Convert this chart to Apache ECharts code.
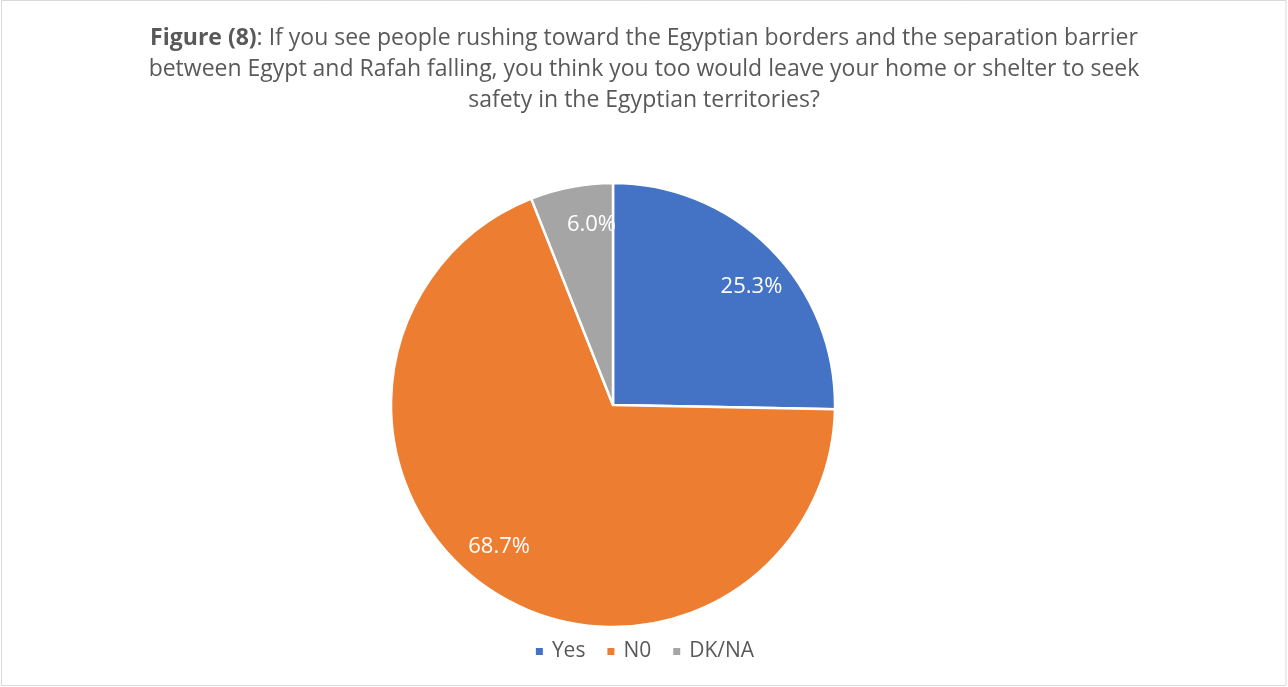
<!DOCTYPE html>
<html>
<head>
<meta charset="utf-8">
<script src="https://cdn.jsdelivr.net/npm/echarts@6/dist/echarts.min.js"></script>
<style>
  html, body { margin: 0; padding: 0; background: #fff; }
  #chart { width: 1288px; height: 687px; }
</style>
</head>
<body>
<div id="chart"></div>
<script>
// Survey answers and their shares (%)
const categories = ['Yes', 'N0', 'DK/NA'];
const shares = [25.3, 68.7, 6.0];
const colors = ['#4472C4', '#ED7D31', '#A5A5A5'];

const titleLines = [
  '{b|Figure (8)}: If you see people rushing toward the Egyptian borders and the separation barrier',
  'between Egypt and Rafah falling, you think you too would leave your home or shelter to seek',
  'safety in the Egyptian territories?'
];

const FONT = '"Open Sans", "Noto Sans", sans-serif';
const TEXT_COLOR = '#595959';
const TITLE_SIZE = 23;

const pieData = categories.map((name, i) => ({
  name: name,
  value: shares[i],
  itemStyle: { color: colors[i] }
}));

const chart = echarts.init(document.getElementById('chart'), null, { renderer: 'canvas' });

chart.setOption({
  animation: false,
  backgroundColor: '#ffffff',
  graphic: [
    {
      type: 'rect',
      shape: { x: 1.5, y: 0.5, width: 1284.5, height: 685 },
      style: { fill: 'none', stroke: '#D9D9D9', lineWidth: 1 },
      silent: true
    },
    {
      type: 'text',
      x: 644,
      y: 23,
      style: {
        text: titleLines.join('\n'),
        align: 'center',
        verticalAlign: 'top',
        fill: TEXT_COLOR,
        font: TITLE_SIZE + 'px ' + FONT,
        lineHeight: 31,
        rich: {
          b: { fontWeight: 'bold', fontSize: TITLE_SIZE, fontFamily: FONT, fill: TEXT_COLOR, lineHeight: 31 }
        }
      },
      silent: true
    }
  ],
  legend: {
    data: categories,
    top: 636,
    left: 'center',
    itemWidth: 9,
    itemHeight: 9,
    itemGap: 20,
    icon: 'rect',
    textStyle: { color: TEXT_COLOR, fontSize: 21, fontFamily: FONT, padding: [0, 0, 0, 3] }
  },
  series: [
    {
      name: 'answers',
      type: 'pie',
      center: [613, 405],
      radius: [0, 222],
      startAngle: 90,
      clockwise: true,
      data: pieData,
      label: { show: false },
      labelLine: { show: false },
      itemStyle: { borderColor: '#ffffff', borderWidth: 2.5 },
      emphasis: { disabled: true }
    },
    {
      // ring used only to place percentage labels near the outer edge,
      // turned a few degrees clockwise like the spreadsheet layout
      name: 'labels',
      type: 'pie',
      center: [613, 405],
      radius: [136, 222],
      startAngle: 86,
      clockwise: true,
      silent: true,
      data: categories.map((name, i) => ({ name: name, value: shares[i] })),
      itemStyle: { color: 'rgba(0,0,0,0)', borderWidth: 0 },
      label: {
        show: true,
        position: 'inside',
        formatter: p => p.value.toFixed(1) + '%',
        color: '#ffffff',
        fontSize: 22,
        fontFamily: FONT
      },
      labelLine: { show: false },
      emphasis: { disabled: true }
    }
  ]
});
</script>
</body>
</html>
